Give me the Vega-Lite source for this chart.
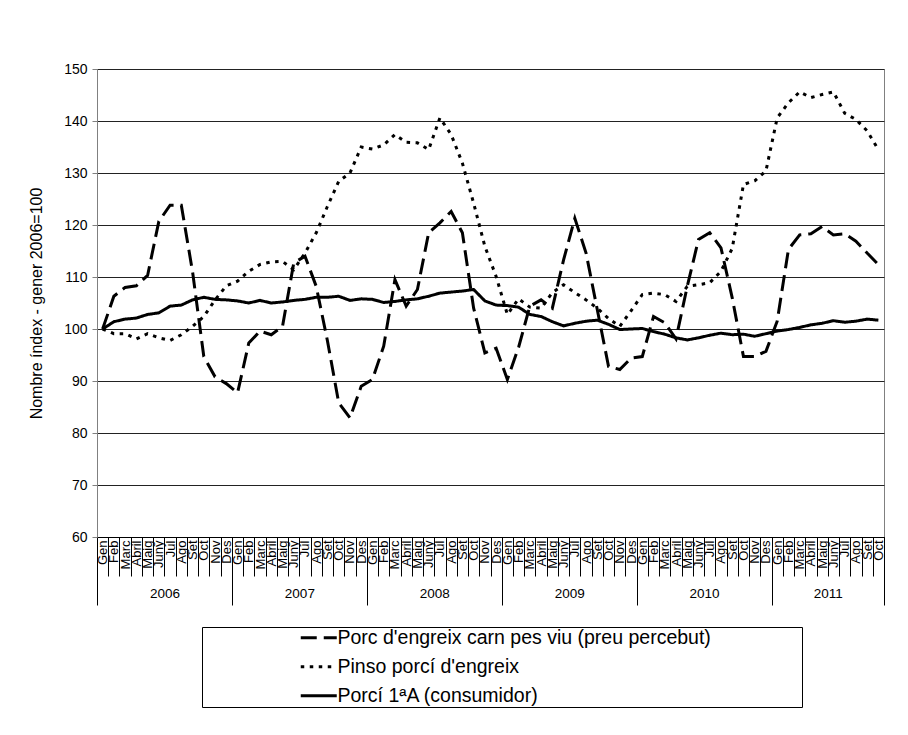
{
  "$schema": "https://vega.github.io/schema/vega-lite/v6.json",
  "autosize": "none",
  "width": 787,
  "height": 468,
  "padding": {"left": 97, "top": 69, "right": 24, "bottom": 198},
  "background": "white",
  "config": {
    "font": "Liberation Sans",
    "view": {"stroke": "#808080", "strokeWidth": 1},
    "axis": {"labelColor": "black", "titleColor": "black", "labelFont": "Liberation Sans", "titleFont": "Liberation Sans", "titleFontWeight": "normal"}
  },
  "data": {"values": [
    {"idx":1,"porc":100,"pinso":100,"porci":100},
    {"idx":2,"porc":106.3,"pinso":99.1,"porci":101.4},
    {"idx":3,"porc":108.0,"pinso":99.1,"porci":101.9},
    {"idx":4,"porc":108.3,"pinso":98.1,"porci":102.1},
    {"idx":5,"porc":110.3,"pinso":99.1,"porci":102.8},
    {"idx":6,"porc":120.7,"pinso":98.3,"porci":103.1},
    {"idx":7,"porc":123.8,"pinso":97.8,"porci":104.4},
    {"idx":8,"porc":123.8,"pinso":98.9,"porci":104.6},
    {"idx":9,"porc":111.0,"pinso":100.5,"porci":105.6},
    {"idx":10,"porc":94.7,"pinso":102.4,"porci":106.1},
    {"idx":11,"porc":90.8,"pinso":105.6,"porci":105.7},
    {"idx":12,"porc":89.5,"pinso":108.3,"porci":105.6},
    {"idx":13,"porc":87.7,"pinso":109.2,"porci":105.4},
    {"idx":14,"porc":97.3,"pinso":111.1,"porci":105.0},
    {"idx":15,"porc":99.6,"pinso":112.4,"porci":105.5},
    {"idx":16,"porc":98.9,"pinso":112.9,"porci":105.0},
    {"idx":17,"porc":100.5,"pinso":113.0,"porci":105.2},
    {"idx":18,"porc":112.7,"pinso":111.4,"porci":105.5},
    {"idx":19,"porc":114.0,"pinso":114.6,"porci":105.7},
    {"idx":20,"porc":108.2,"pinso":118.5,"porci":106.1},
    {"idx":21,"porc":97.7,"pinso":123.6,"porci":106.1},
    {"idx":22,"porc":85.8,"pinso":128.4,"porci":106.3},
    {"idx":23,"porc":82.9,"pinso":130.0,"porci":105.5},
    {"idx":24,"porc":89.0,"pinso":135.0,"porci":105.8},
    {"idx":25,"porc":90.3,"pinso":134.6,"porci":105.7},
    {"idx":26,"porc":96.7,"pinso":135.4,"porci":105.1},
    {"idx":27,"porc":109.5,"pinso":137.4,"porci":105.3},
    {"idx":28,"porc":104.4,"pinso":135.9,"porci":105.6},
    {"idx":29,"porc":107.6,"pinso":135.8,"porci":105.8},
    {"idx":30,"porc":118.5,"pinso":134.5,"porci":106.3},
    {"idx":31,"porc":120.4,"pinso":140.6,"porci":106.9},
    {"idx":32,"porc":122.6,"pinso":137.4,"porci":107.1},
    {"idx":33,"porc":118.5,"pinso":131.9,"porci":107.3},
    {"idx":34,"porc":104.0,"pinso":124.2,"porci":107.6},
    {"idx":35,"porc":95.4,"pinso":115.9,"porci":105.4},
    {"idx":36,"porc":96.3,"pinso":110.1,"porci":104.6},
    {"idx":37,"porc":90.3,"pinso":102.8,"porci":104.5},
    {"idx":38,"porc":96.5,"pinso":105.8,"porci":104.2},
    {"idx":39,"porc":104.4,"pinso":104.2,"porci":102.8},
    {"idx":40,"porc":105.6,"pinso":104.0,"porci":102.4},
    {"idx":41,"porc":104.0,"pinso":107.0,"porci":101.4},
    {"idx":42,"porc":113.3,"pinso":108.5,"porci":100.6},
    {"idx":43,"porc":121.3,"pinso":107.0,"porci":101.1},
    {"idx":44,"porc":114.6,"pinso":105.6,"porci":101.5},
    {"idx":45,"porc":103.7,"pinso":104.0,"porci":101.7},
    {"idx":46,"porc":92.8,"pinso":102.0,"porci":100.9},
    {"idx":47,"porc":92.2,"pinso":100.5,"porci":99.9},
    {"idx":48,"porc":94.4,"pinso":103.5,"porci":100.0},
    {"idx":49,"porc":94.7,"pinso":106.6,"porci":100.1},
    {"idx":50,"porc":102.4,"pinso":106.9,"porci":99.5},
    {"idx":51,"porc":101.2,"pinso":106.6,"porci":99.0},
    {"idx":52,"porc":98.1,"pinso":105.3,"porci":98.3},
    {"idx":53,"porc":108.2,"pinso":108.2,"porci":97.9},
    {"idx":54,"porc":117.2,"pinso":108.5,"porci":98.3},
    {"idx":55,"porc":118.5,"pinso":108.9,"porci":98.8},
    {"idx":56,"porc":115.6,"pinso":111.1,"porci":99.2},
    {"idx":57,"porc":106.0,"pinso":115.5,"porci":98.9},
    {"idx":58,"porc":94.7,"pinso":127.8,"porci":99.0},
    {"idx":59,"porc":94.7,"pinso":128.5,"porci":98.6},
    {"idx":60,"porc":95.7,"pinso":130.4,"porci":99.1},
    {"idx":61,"porc":101.5,"pinso":140.6,"porci":99.6},
    {"idx":62,"porc":115.3,"pinso":143.5,"porci":99.9},
    {"idx":63,"porc":118.1,"pinso":145.6,"porci":100.3},
    {"idx":64,"porc":118.3,"pinso":144.5,"porci":100.8},
    {"idx":65,"porc":119.7,"pinso":145.1,"porci":101.1},
    {"idx":66,"porc":118.1,"pinso":145.6,"porci":101.6},
    {"idx":67,"porc":118.3,"pinso":141.5,"porci":101.3},
    {"idx":68,"porc":116.9,"pinso":140.3,"porci":101.5},
    {"idx":69,"porc":114.6,"pinso":138.1,"porci":101.9},
    {"idx":70,"porc":112.4,"pinso":134.5,"porci":101.7}
  ]},
  "transform": [{"fold": ["porc", "pinso", "porci"], "as": ["serie", "valor"]}],
  "resolve": {"axis": {"x": "independent"}},
  "layer": [
    {
      "mark": {"type": "line", "color": "black", "strokeWidth": 3, "strokeCap": "butt"},
      "encoding": {
        "x": {
          "field": "idx", "type": "quantitative",
          "scale": {"domain": [0.5, 70.5], "nice": false, "zero": false},
          "axis": {
            "orient": "bottom", "title": null, "grid": false, "ticks": false,
            "domain": true, "domainColor": "black", "domainWidth": 1,
            "values": [1,2,3,4,5,6,7,8,9,10,11,12,13,14,15,16,17,18,19,20,21,22,23,24,25,26,27,28,29,30,31,32,33,34,35,36,37,38,39,40,41,42,43,44,45,46,47,48,49,50,51,52,53,54,55,56,57,58,59,60,61,62,63,64,65,66,67,68,69,70],
            "labelExpr": "['Gen','Feb','Marc','Abril','Maig','Juny','Jul','Ago','Set','Oct','Nov','Des'][(datum.value - 1) % 12]",
            "labelAngle": -90, "labelFontSize": 13, "labelPadding": 3,
            "labelOverlap": false, "labelFlush": false, "labelBound": false
          }
        },
        "y": {
          "field": "valor", "type": "quantitative",
          "scale": {"domain": [60, 150], "nice": false, "zero": false},
          "axis": {
            "title": "Nombre índex - gener 2006=100", "titleFontSize": 16, "titlePadding": 19,
            "values": [60,70,80,90,100,110,120,130,140,150],
            "grid": true, "gridColor": "#222222", "gridWidth": 1,
            "domainColor": "#808080", "tickColor": "#808080", "tickSize": 5,
            "labelFontSize": 14, "labelPadding": 5
          }
        },
        "strokeDash": {
          "field": "serie", "type": "nominal",
          "scale": {"domain": ["porc", "pinso", "porci"], "range": [[16, 7], [3.5, 5.5], [1, 0]]},
          "legend": {
            "orient": "none", "legendX": 105, "legendY": 558, "direction": "vertical",
            "title": " ", "titleOrient": "right", "titlePadding": 90, "titleFontSize": 12,
            "strokeColor": "black", "fillColor": "white", "padding": 1,
            "symbolType": "M-3,0H3", "symbolSize": 144, "symbolStrokeWidth": 3, "symbolStrokeColor": "black",
            "symbolOffset": 106, "labelOffset": 9, "rowPadding": 8,
            "labelFontSize": 19.5, "labelColor": "black", "labelFont": "Liberation Sans", "labelLimit": 700,
            "labelExpr": "datum.label === 'porc' ? \"Porc d'engreix carn pes viu (preu percebut)\" : datum.label === 'pinso' ? \"Pinso porcí d'engreix\" : 'Porcí 1ªA (consumidor)'"
          }
        }
      }
    },
    {
      "mark": {"type": "point", "opacity": 0},
      "encoding": {
        "x": {
          "field": "idx", "type": "quantitative",
          "scale": {"domain": [0.5, 70.5], "nice": false, "zero": false},
          "axis": {
            "orient": "bottom", "title": null, "grid": false, "domain": false, "labels": false,
            "ticks": true, "tickSize": 39, "tickColor": "black", "tickWidth": 1,
            "values": [0.5,1.5,2.5,3.5,4.5,5.5,6.5,7.5,8.5,9.5,10.5,11.5,12.5,13.5,14.5,15.5,16.5,17.5,18.5,19.5,20.5,21.5,22.5,23.5,24.5,25.5,26.5,27.5,28.5,29.5,30.5,31.5,32.5,33.5,34.5,35.5,36.5,37.5,38.5,39.5,40.5,41.5,42.5,43.5,44.5,45.5,46.5,47.5,48.5,49.5,50.5,51.5,52.5,53.5,54.5,55.5,56.5,57.5,58.5,59.5,60.5,61.5,62.5,63.5,64.5,65.5,66.5,67.5,68.5,69.5,70.5]
          }
        }
      }
    },
    {
      "mark": {"type": "point", "opacity": 0},
      "encoding": {
        "x": {
          "field": "idx", "type": "quantitative",
          "scale": {"domain": [0.5, 70.5], "nice": false, "zero": false},
          "axis": {
            "orient": "bottom", "title": null, "grid": false, "domain": false, "labels": false,
            "ticks": true, "tickSize": 68, "tickColor": "black", "tickWidth": 1,
            "values": [0.5, 12.5, 24.5, 36.5, 48.5, 60.5, 70.5]
          }
        }
      }
    },
    {
      "mark": {"type": "point", "opacity": 0},
      "encoding": {
        "x": {
          "field": "idx", "type": "quantitative",
          "scale": {"domain": [0.5, 70.5], "nice": false, "zero": false},
          "axis": {
            "orient": "bottom", "title": null, "grid": false, "domain": false, "ticks": false,
            "values": [6.5, 18.5, 30.5, 42.5, 54.5, 65.5],
            "labelExpr": "'' + (2006 + floor((datum.value - 0.5) / 12))",
            "labelFontSize": 13.5, "labelPadding": 49, "labelFlush": false, "labelOverlap": false
          }
        }
      }
    }
  ]
}
